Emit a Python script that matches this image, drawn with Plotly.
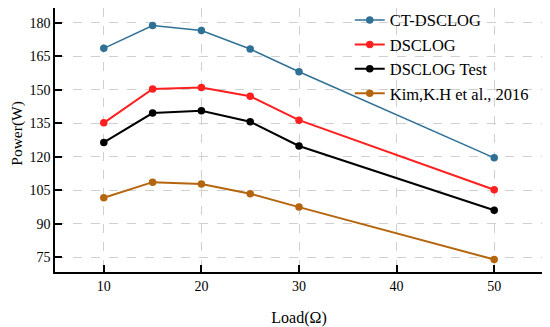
import plotly.graph_objects as go

loads = [10, 15, 20, 25, 30, 50]
ct_dsclog = [168.6, 178.8, 176.6, 168.3, 158.1, 119.5]
dsclog = [135.2, 150.4, 151.0, 147.1, 136.4, 105.2]
dsclog_test = [126.4, 139.6, 140.6, 135.7, 124.8, 96.0]
kim = [101.6, 108.6, 107.8, 103.4, 97.4, 73.9]

series = [
    ("CT-DSCLOG", ct_dsclog, "#2f7095", 1.5),
    ("DSCLOG", dsclog, "#ff1f1f", 2),
    ("DSCLOG Test", dsclog_test, "#000000", 2),
    ("Kim,K.H et al., 2016", kim, "#b5650e", 2),
]

fig = go.Figure()
for name, vals, color, w in series:
    fig.add_trace(go.Scatter(x=loads, y=vals, mode="lines+markers", name=name,
                             line=dict(color=color, width=w),
                             marker=dict(color=color, size=7.5)))

font = "Liberation Serif"
fig.update_layout(
    width=542, height=319,
    margin=dict(l=47, r=7, t=0, b=55, autoexpand=False),
    paper_bgcolor="white", plot_bgcolor="white",
    font=dict(family=font, size=14, color="black"),
    showlegend=True,
    legend=dict(x=0.604, y=1.02, xanchor="left", yanchor="top",
                bgcolor="rgba(0,0,0,0)", font=dict(size=16.5, family=font),
                tracegroupgap=0, itemwidth=30),
    annotations=[dict(text="Power(W)", textangle=-90, xref="paper", yref="paper",
                      x=-0.0785, y=0.5265, xanchor="center", yanchor="middle",
                      showarrow=False, font=dict(size=15.5, family=font))],
)
axis_common = dict(
    showline=True, linecolor="black", linewidth=1.5, mirror=True,
    ticks="inside", ticklen=7, tickwidth=1.5, tickcolor="black",
    showgrid=True, gridcolor="#d0d0d0", griddash="dash", gridwidth=1,
    zeroline=False, tickfont=dict(size=14, family=font), automargin=False,
)
fig.update_xaxes(range=[5, 55], tickvals=[10, 20, 30, 40, 50],
                 title=dict(text="Load(Ω)", font=dict(size=16), standoff=22),
                 **axis_common)
fig.update_yaxes(range=[68.3, 186.7], tickvals=[75, 90, 105, 120, 135, 150, 165, 180],
                 **axis_common)

fig.write_html("out.html")
